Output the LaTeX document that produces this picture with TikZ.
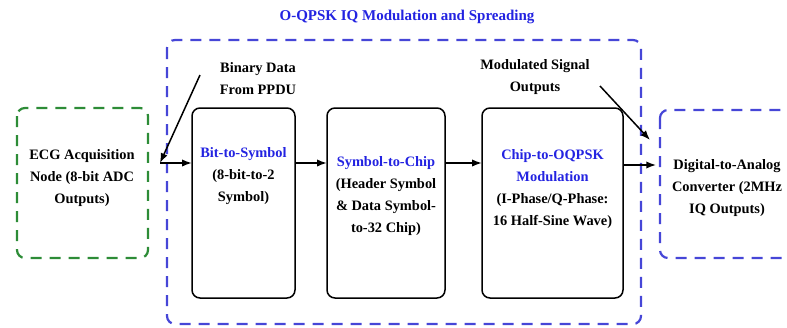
\documentclass[tikz,border=0pt]{standalone}
\usepackage{fontspec}
\setmainfont{Liberation Serif}
\usetikzlibrary{arrows.meta,positioning}
\definecolor{frameblue}{RGB}{70,70,215}
\definecolor{textblue}{RGB}{35,35,225}
\definecolor{framegreen}{RGB}{45,140,55}
\newcommand{\hd}[1]{\textcolor{textblue}{#1}}

\begin{document}
\begin{tikzpicture}[x=1pt, y=-1pt, >=Latex,
    every node/.style={font=\fontsize{14.4}{22}\selectfont\bfseries, align=center, inner sep=0pt},
    groupbox/.style={draw=frameblue, line width=2.2pt, dash pattern=on 11pt off 8pt, rounded corners=8pt},
    srcbox/.style={draw=framegreen, line width=2.2pt, dash pattern=on 11pt off 8pt, rounded corners=8pt},
    block/.style={draw, line width=1.5pt, rounded corners=8pt},
    link/.style={->, line width=1.5pt}]

  \clip (0,0) rectangle (787,327);
  \useasboundingbox (0,0) rectangle (787,327);

  %--------------------------
  % Frames
  %--------------------------
  \node[font=\fontsize{15}{18}\selectfont\bfseries] at (407,17) {\hd{O-QPSK IQ Modulation and Spreading}};
  \draw[groupbox] (167,40) rectangle (641,324);
  \draw[srcbox] (17,108) rectangle (148,258);
  \draw[groupbox] (660,110) rectangle (800,258);

  % Source and sink texts
  \node (ecg) at (82,178) {ECG Acquisition\\Node (8-bit ADC\\Outputs)};
  \node (dac) at (727,188) {Digital-to-Analog\\Converter (2MHz\\IQ Outputs)};

  %--------------------------
  % Processing blocks
  %--------------------------
  \draw[block] (192,108) rectangle (295,298);
  \draw[block] (327,108) rectangle (445,298);
  \draw[block] (482,108) rectangle (623,298);
  \node[minimum width=103pt, minimum height=190pt] (b1) at (243.5,203) {};
  \node[minimum width=118pt, minimum height=190pt] (b2) at (386,203) {};
  \node[minimum width=141pt, minimum height=190pt] (b3) at (552.5,203) {};

  \node at (243.5,176) {\hd{Bit-to-Symbol}\\(8-bit-to-2\\Symbol)};
  \node at (386,196) {\hd{Symbol-to-Chip}\\(Header Symbol\\\& Data Symbol-\\to-32 Chip)};
  \node at (552.5,189) {\hd{Chip-to-OQPSK}\\\hd{Modulation}\\(I-Phase/Q-Phase:\\16 Half-Sine Wave)};

  % Annotations
  \node (bin) at (258,79) {Binary Data\\From PPDU};
  \node (mod) at (535,77) {Modulated Signal\\Outputs};
  \coordinate (binA) at (200,75);
  \coordinate (in1) at (160,163);
  \coordinate (modA) at (600,86);
  \coordinate (out1) at (650,140);
  \coordinate (out2) at (656,165);

  % Arrows
  \draw[link] (binA) -- (in1);
  \draw[link] (in1) -- (b1.west |- in1);
  \draw[link] (b1.east |- in1) -- (b2.west |- in1);
  \draw[link] (b2.east |- in1) -- (b3.west |- in1);
  \draw[link] (b3.east |- out2) -- (out2);
  \draw[link] (modA) -- (out1);

\end{tikzpicture}
\end{document}
